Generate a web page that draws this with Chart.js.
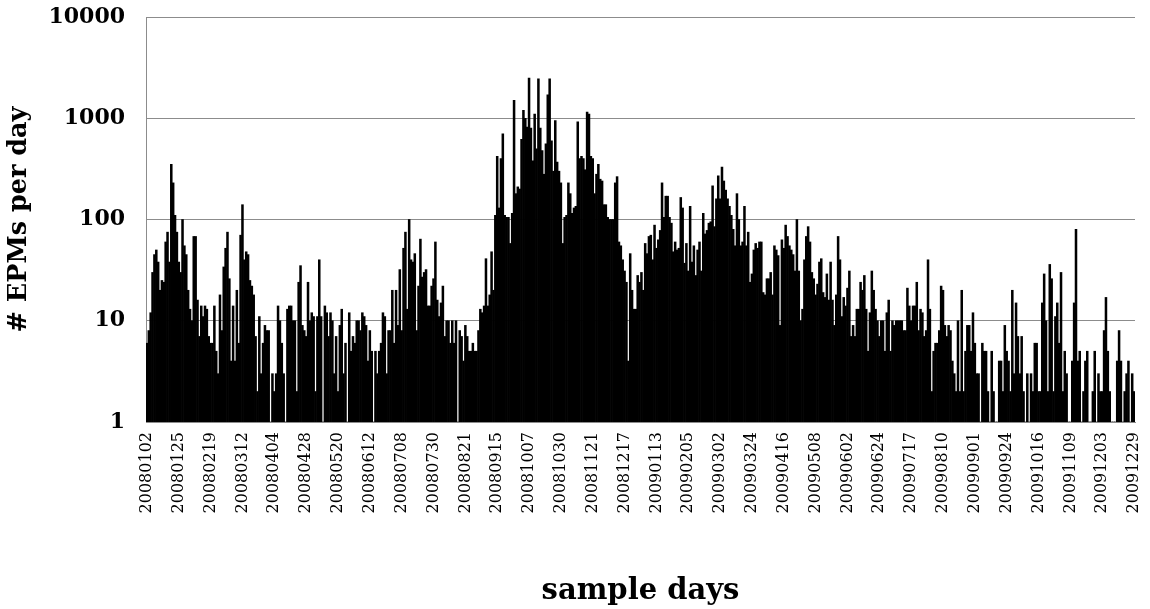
<!DOCTYPE html>
<html>
<head>
<meta charset="utf-8">
<script src="https://cdn.jsdelivr.net/npm/chart.js@4.4.0/dist/chart.umd.min.js"></script>
<style>
  html, body { margin: 0; padding: 0; background: #ffffff; }
  #wrap { width: 1150px; height: 609px; position: relative; }
</style>
</head>
<body>
<div id="wrap"><canvas id="c" width="1150" height="609"></canvas></div>
<script>
// Tick labels shown on the x axis (one every 17 sample days)
const tickLabels = [
  "20080102","20080125","20080219","20080312","20080404","20080428","20080520","20080612",
  "20080708","20080730","20080821","20080915","20081007","20081030","20081121","20081217",
  "20090113","20090205","20090302","20090324","20090416","20090508","20090602","20090624",
  "20090717","20090810","20090901","20090924","20091016","20091109","20091203","20091229"
];
const labelStep = 17;

// # EPMs per day (1 = no visible bar)
const epmsJanMar08 = [6,8,12,30,45,50,38,20,25,24,60,75,38,350,230,110,75,38,30,100,55,45,20,13,10,68,68,16,7,14,11,14,13,7,6,6,14,5,3,18,8,34,52,75];
const epmsMarApr08 = [26,4,14,4,20,6,70,140,40,48,45,25,22,18,7,2,11,3,6,9,8,8,1,3,2,3,14,10,6,3,1,13,14,14,10,10,2,24,35,9,8,7,24,10];
const epmsAprJun08 = [12,11,2,11,40,11,1,14,12,7,12,10,3,7,2,9,13,3,6,1,12,5,7,6,10,10,8,12,11,9,4,8,5,1,5,3,5,6,12,11,3,8,8,20];
const epmsJunAug08 = [6,20,9,32,8,52,75,13,100,40,38,46,8,22,64,27,30,32,14,14,22,26,60,16,11,15,22,7,10,10,6,10,6,10,1,8,7,4,9,7,5,5,6,5];
const epmsAugOct08 = [5,8,13,12,14,41,14,18,48,20,110,420,130,400,700,110,105,105,58,115,1500,180,210,200,620,1200,1000,820,2500,800,380,1100,500,2450,800,480,280,560,1700,2450,600,300,950,370];
const epmsOctDec08 = [300,230,58,105,110,230,180,115,130,135,920,400,420,400,310,1150,1100,420,400,180,280,350,250,240,140,140,105,100,100,100,230,265,60,55,40,31,24,4,46,20,13,13,28,24];
const epmsDec08Feb09 = [30,20,58,46,68,70,40,88,52,63,78,230,105,170,170,105,92,48,60,50,52,165,130,37,58,31,135,38,55,28,50,60,31,115,72,78,92,95,215,85,160,270,160,330];
const epmsFebApr09 = [240,195,160,135,110,80,55,180,100,55,60,135,55,75,24,29,50,58,52,60,60,19,18,26,26,30,18,55,50,44,9,63,52,88,68,55,50,45,31,100,31,10,13,40];
const epmsAprJun09 = [68,85,60,30,26,18,23,38,41,19,17,29,16,38,16,9,18,68,40,11,17,14,21,31,7,9,7,13,13,24,20,28,13,5,12,31,20,13,10,7,10,10,5,12,16];
const epmsJunAug09 = [5,10,9,10,10,10,10,8,8,21,14,10,14,14,24,8,13,12,7,8,40,13,2,5,6,6,8,22,20,9,7,9,8,4,3,2,10,2,20,2,5,9,9,5,12];
const epmsAugOct09 = [6,3,3,1,6,5,5,2,1,5,2,1,1,4,4,2,9,5,4,2,20,3,15,7,3,7,2,1,3,1,3,2,6,6,2,2,15,29,10,2,36,26,2,11,15];
const epmsNovDec09 = [6,30,2,5,3,1,1,4,15,80,4,5,1,2,4,5,1,1,2,5,1,3,2,2,8,17,5,2,1,1,1,4,8,4,1,2,3,4,1,3,2];

const yTickValues = [1, 10, 100, 1000, 10000];

const epms = [].concat(epmsJanMar08, epmsMarApr08, epmsAprJun08, epmsJunAug08, epmsAugOct08,
  epmsOctDec08, epmsDec08Feb09, epmsFebApr09, epmsAprJun09, epmsJunAug09, epmsAugOct09, epmsNovDec09);
const categories = epms.map((_, i) => (i % labelStep === 0 && tickLabels[i / labelStep]) ? tickLabels[i / labelStep] : "");

const SERIF = "'DejaVu Serif', 'Liberation Serif', serif";
const GRID = "rgb(140,140,140)";

new Chart(document.getElementById('c'), {
  type: 'bar',
  data: {
    labels: categories,
    datasets: [{
      data: epms,
      backgroundColor: '#000000',
      borderWidth: 0,
      barPercentage: 1.0,
      categoryPercentage: 1.0
    }]
  },
  options: {
    responsive: false,
    animation: false,
    layout: { padding: { left: 4, right: 15, top: 17, bottom: 0 } },
    plugins: { legend: { display: false }, tooltip: { enabled: false } },
    scales: {
      x: {
        type: 'category',
        offset: true,
        grid: { display: false, drawTicks: false },
        border: { display: true, color: GRID, width: 1 },
        ticks: {
          autoSkip: false, minRotation: 90, maxRotation: 90,
          padding: 10, color: '#000',
          font: { family: SERIF, size: 16 }
        },
        title: {
          display: true, text: 'sample days', color: '#000',
          font: { family: SERIF, size: 29, weight: 'bold' },
          padding: { top: 8, bottom: 0 }
        },
        afterFit: (s) => { s.height = 609 - 422; s.paddingLeft = 0; s.paddingRight = 0; s.paddingTop = 0; s.paddingBottom = 0; }
      },
      y: {
        type: 'logarithmic',
        min: 1, max: 10000,
        afterBuildTicks: (axis) => { axis.ticks = yTickValues.map(v => ({ value: v })); },
        grid: { color: GRID, lineWidth: 1, drawTicks: false },
        border: { display: true, color: GRID, width: 1 },
        ticks: {
          color: '#000', padding: 21,
          font: { family: SERIF, size: 22, weight: 'bold' },
          callback: (v) => String(v)
        },
        title: {
          display: true, text: '# EPMs per day', color: '#000',
          font: { family: SERIF, size: 25.5, weight: 'bold' },
          padding: { top: 0, bottom: 4 }
        },
        afterFit: (s) => { s.width = 146 - 4; s.paddingTop = 0; s.paddingBottom = 0; s.paddingLeft = 0; s.paddingRight = 0; }
      }
    }
  }
});
</script>
</body>
</html>
